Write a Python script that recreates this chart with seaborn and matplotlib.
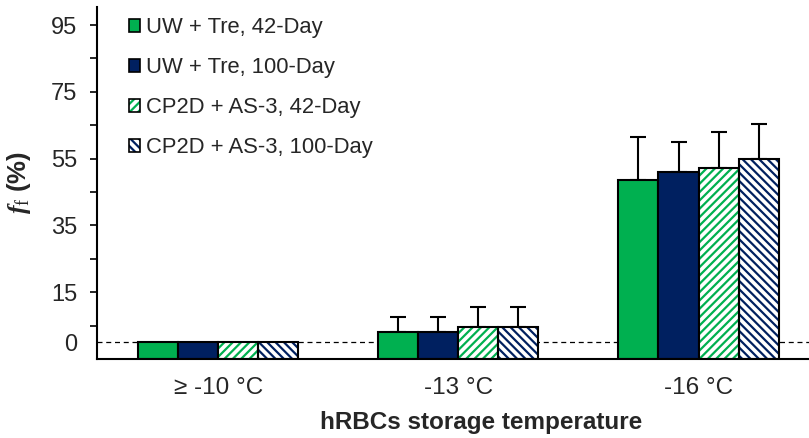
import pandas as pd
import seaborn as sns
import matplotlib.pyplot as plt
from matplotlib.patches import Patch, Rectangle
from matplotlib.legend_handler import HandlerTuple

# values (f_f in %)
categories = ['≥ -10 °C', '-13 °C', '-16 °C']
groups = ['UW + Tre, 42-Day', 'UW + Tre, 100-Day',
          'CP2D + AS-3, 42-Day', 'CP2D + AS-3, 100-Day']
uw_42 = [0, 3.2, 48.7]
uw_100 = [0, 3.2, 51.0]
cp_42 = [0, 4.5, 52.1]
cp_100 = [0, 4.5, 55.0]
uw_42_err = [0, 4.3, 12.7]
uw_100_err = [0, 4.3, 8.9]
cp_42_err = [0, 6.0, 10.9]
cp_100_err = [0, 6.0, 10.3]

colors = ['#00B050', '#002060', '#00B050', '#002060']
hatches = [None, None, '////', '\\\\\\\\']
values = [uw_42, uw_100, cp_42, cp_100]
errors = [uw_42_err, uw_100_err, cp_42_err, cp_100_err]

rows = []
for g, vals in zip(groups, values):
    for c, v in zip(categories, vals):
        rows.append({'temp': c, 'group': g, 'ff': v})
df = pd.DataFrame(rows)

sns.set_theme(style='ticks')
plt.rcParams['font.family'] = ['Liberation Sans', 'DejaVu Sans']
plt.rcParams['hatch.linewidth'] = 1.6
plt.rcParams['mathtext.fontset'] = 'custom'
plt.rcParams['mathtext.it'] = 'Liberation Serif:italic:bold'
plt.rcParams['mathtext.rm'] = 'Liberation Serif'

fig = plt.figure(figsize=(8.09, 4.38), dpi=100)
ax = fig.add_axes([97 / 809, 1 - 359 / 438, 1 - 97 / 809, (359 - 7) / 438])

base = -5
ax.axhline(0, color='black', lw=0.9, ls=(0, (4, 3)), zorder=0.5)

sns.barplot(data=df, x='temp', y='ff', hue='group', hue_order=groups,
            palette=colors, saturation=1, width=0.667, gap=0, errorbar=None,
            edgecolor='black', linewidth=1.5, legend=False, ax=ax, zorder=2)

for cont, col, hat, err in zip(ax.containers, colors, hatches, errors):
    xs, tops, es = [], [], []
    for p, e in zip(cont.patches, err):
        h = p.get_height()
        p.set_y(base)
        p.set_height(h - base)
        if hat:
            p.set_facecolor('white')
            p.set_edgecolor(col)
            p.set_hatch(hat)
            p.set_linewidth(0)
            ax.add_patch(Rectangle(p.get_xy(), p.get_width(), p.get_height(),
                                   fill=False, ec='black', lw=1.5, zorder=2.1))
        if e > 0:
            xs.append(p.get_x() + p.get_width() / 2)
            tops.append(h)
            es.append(e)
    ax.errorbar(xs, tops, yerr=[[0] * len(es), es], fmt='none', ecolor='black',
                elinewidth=1.5, capsize=6, capthick=1.5, zorder=1.5)

ax.set_xlim(-0.505, 2.46)
ax.set_ylim(base, 100.4)
yt = [0, 5, 15, 25, 35, 45, 55, 65, 75, 85, 95]
ax.set_yticks(yt)
ax.set_yticklabels(['0', '', '15', '', '35', '', '55', '', '75', '', '95'])
ax.yaxis.get_major_ticks()[0].tick1line.set_visible(False)
ax.tick_params(axis='y', length=5, width=1.2, pad=9, labelsize=17, color='black')
ax.tick_params(axis='x', length=0, pad=13, labelsize=17.5)
for s in ['top', 'right']:
    ax.spines[s].set_visible(False)
for s in ['left', 'bottom']:
    ax.spines[s].set_linewidth(1.5)
    ax.spines[s].set_color('black')

ax.set_xlabel('hRBCs storage temperature', fontsize=17.5, fontweight='bold')
ax.xaxis.set_label_coords((481 - 97) / 712, -52 / 352)
ax.set_ylabel(r'$\mathit{f}_{\mathrm{f}}$ (%)', fontsize=18.5, fontweight='bold')
ax.yaxis.set_label_coords(-64 / 712, (359 - 182) / 352)

handles = []
for col, hat in zip(colors, hatches):
    if hat:
        handles.append((Patch(facecolor='white', edgecolor=col, hatch=hat, lw=0),
                        Patch(fill=False, edgecolor='black', lw=1.2)))
    else:
        handles.append(Patch(facecolor=col, edgecolor='black', lw=1.2))
fig.legend(handles, groups, loc='upper left', bbox_to_anchor=(129 / 809, 1 - 17 / 438),
           frameon=False, fontsize=15.8, handlelength=0.52, handleheight=0.52,
           handletextpad=0.27, labelspacing=0.87, borderpad=0, borderaxespad=0,
           handler_map={tuple: HandlerTuple(ndivide=1)})

fig.savefig('out.png', dpi=100)
